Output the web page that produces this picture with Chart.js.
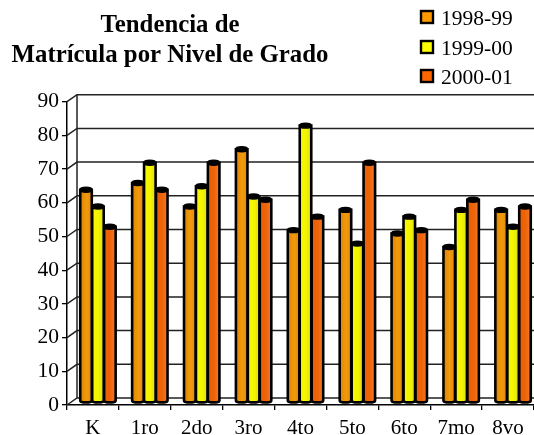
<!DOCTYPE html>
<html>
<head>
<meta charset="utf-8">
<script src="https://cdn.jsdelivr.net/npm/chart.js@4"></script>
<style>
  html, body { margin: 0; padding: 0; background: #fff; }
  canvas { display: block; }
</style>
</head>
<body>
<canvas id="barChart" width="534" height="435"></canvas>
<script>
var categories = ["K", "1ro", "2do", "3ro", "4to", "5to", "6to", "7mo", "8vo"];
var values9899 = [63, 65, 58, 75, 51, 57, 50, 46, 57];
var values9900 = [58, 71, 64, 61, 82, 47, 55, 57, 52];
var values0001 = [52, 63, 71, 60, 55, 71, 51, 60, 58];
var titleLines = ["Tendencia de", "Matrícula por Nivel de Grado"];

var serif = '"Liberation Serif", "Times New Roman", serif';
var depthX = 10, depthY = 7; // back wall offset of the fake 3D

// back wall, floor and the depth ticks
var wallPlugin = {
  id: "wall",
  beforeDatasetsDraw: function (chart) {
    var ctx = chart.ctx, y = chart.scales.y, a = chart.chartArea;
    ctx.save();
    ctx.strokeStyle = "#222";
    ctx.lineWidth = 1.5;
    y.ticks.forEach(function (t) {
      var py = y.getPixelForValue(t.value);
      ctx.beginPath();
      ctx.moveTo(a.left, py);
      ctx.lineTo(a.left + depthX, py - depthY);
      ctx.lineTo(a.right, py - depthY);
      ctx.stroke();
    });
    ctx.beginPath();
    ctx.moveTo(a.left + depthX, a.top - depthY);
    ctx.lineTo(a.left + depthX, a.bottom - depthY);
    ctx.stroke();
    ctx.restore();
  }
};

// every bar is drawn as a cylinder from the element Chart.js laid out
var cylinderPlugin = {
  id: "cylinder",
  beforeDatasetDraw: function (chart, args) {
    var ctx = chart.ctx;
    var ds = chart.data.datasets[args.index];
    args.meta.data.forEach(function (bar) {
      var cx = bar.x + 5, hw = bar.width / 2 - 0.2;
      var top = bar.y - 3, bottom = bar.base - 3;
      var grad = ctx.createLinearGradient(cx - hw, 0, cx + hw, 0);
      grad.addColorStop(0, ds.shade[0]);
      grad.addColorStop(0.55, ds.shade[1]);
      grad.addColorStop(1, ds.shade[2]);
      ctx.save();
      ctx.beginPath();
      ctx.moveTo(cx - hw, top);
      ctx.lineTo(cx - hw, bottom - 1);
      ctx.quadraticCurveTo(cx - hw, bottom + 1, cx - hw + 3, bottom + 1);
      ctx.lineTo(cx + hw - 3, bottom + 1);
      ctx.quadraticCurveTo(cx + hw, bottom + 1, cx + hw, bottom - 1);
      ctx.lineTo(cx + hw, top);
      ctx.closePath();
      ctx.fillStyle = grad;
      ctx.fill();
      ctx.strokeStyle = "#000";
      ctx.lineWidth = 2.6;
      ctx.stroke();
      ctx.beginPath();
      ctx.ellipse(cx, top, hw, 2.4, 0, 0, Math.PI * 2);
      ctx.fillStyle = "#000";
      ctx.fill();
      ctx.lineWidth = 1.6;
      ctx.stroke();
      ctx.restore();
    });
    return false;
  }
};

// title and legend sit in the free space above the plot
var headerPlugin = {
  id: "header",
  afterDraw: function (chart) {
    var ctx = chart.ctx;
    ctx.save();
    ctx.fillStyle = "#000";
    ctx.textBaseline = "alphabetic";
    ctx.textAlign = "center";
    ctx.font = "bold 24.8px " + serif;
    ctx.fillText(titleLines[0], 170, 32);
    ctx.fillText(titleLines[1], 170, 62);
    ctx.textAlign = "left";
    ctx.font = "21.5px " + serif;
    var rows = [25, 55, 84];
    chart.data.datasets.forEach(function (ds, i) {
      ctx.fillStyle = ds.backgroundColor;
      ctx.fillRect(421, rows[i] - 14, 12, 12);
      ctx.strokeStyle = "#000";
      ctx.lineWidth = 2.4;
      ctx.strokeRect(421, rows[i] - 14, 12, 12);
      ctx.fillStyle = "#000";
      ctx.fillText(ds.label, 441, rows[i]);
    });
    ctx.restore();
  }
};

new Chart(document.getElementById("barChart").getContext("2d"), {
  type: "bar",
  data: {
    labels: categories,
    datasets: [
      { label: "1998-99", data: values9899, backgroundColor: "#FF9900", shade: ["#E08400", "#F29A0C", "#E08A10"] },
      { label: "1999-00", data: values9900, backgroundColor: "#FFFF00", shade: ["#F8F800", "#F4F400", "#DCDC20"] },
      { label: "2000-01", data: values0001, backgroundColor: "#FF6600", shade: ["#EA5E00", "#EE6408", "#F07A30"] }
    ]
  },
  options: {
    responsive: false,
    animation: false,
    layout: { padding: { top: 101.7, right: 0, bottom: 0, left: 0 } },
    plugins: { legend: { display: false }, title: { display: false }, tooltip: { enabled: false } },
    datasets: { bar: { categoryPercentage: 0.69, barPercentage: 1 } },
    scales: {
      x: {
        afterFit: function (scale) { scale.height = 30; },
        border: { color: "#000", width: 1.5 },
        grid: { drawOnChartArea: false, color: "#000", tickLength: 5, lineWidth: 1.3 },
        ticks: { color: "#000", padding: 6, font: { family: serif, size: 21 }, maxRotation: 0 }
      },
      y: {
        min: 0,
        max: 90,
        afterFit: function (scale) { scale.width = 67; },
        border: { color: "#000", width: 1.5 },
        grid: { drawOnChartArea: false, color: "#000", tickLength: 5, lineWidth: 1.3 },
        ticks: { stepSize: 10, color: "#000", padding: 3, font: { family: serif, size: 21.5 } }
      }
    }
  },
  plugins: [wallPlugin, cylinderPlugin, headerPlugin]
});
</script>
</body>
</html>
